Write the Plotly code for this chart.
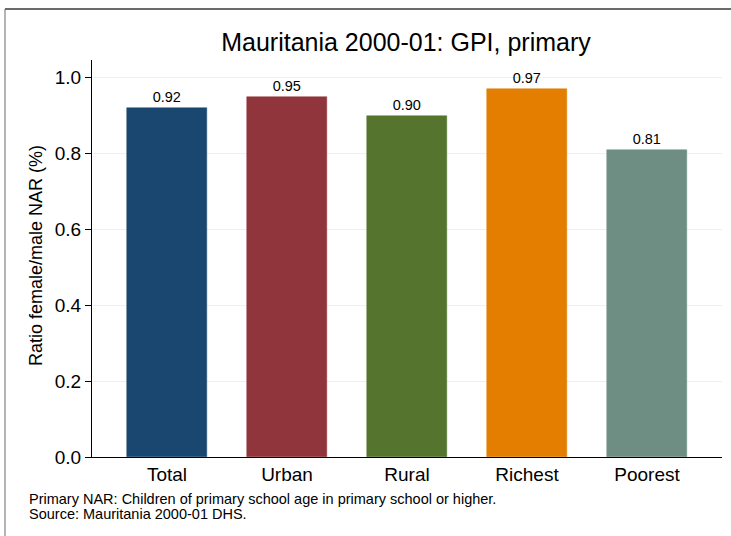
import plotly.graph_objects as go

categories = ["Total", "Urban", "Rural", "Richest", "Poorest"]
values = [0.92, 0.95, 0.90, 0.97, 0.81]
labels = ["0.92", "0.95", "0.90", "0.97", "0.81"]
colors = ["#1a476f", "#90353b", "#55752f", "#e37e00", "#6e8e84"]
y_ticks = [0.0, 0.2, 0.4, 0.6, 0.8, 1.0]
y_ticklabels = ["0.0", "0.2", "0.4", "0.6", "0.8", "1.0"]
note_lines = ["Primary NAR: Children of primary school age in primary school or higher.",
              "Source: Mauritania 2000-01 DHS."]

W, H = 731, 536
L, R, T, B = 92, 9, 60, 79
pw, ph = W - L - R, H - T - B

def px_x(x):
    return (x - L) / pw

def px_y(y):
    return (H - B - y) / ph

fig = go.Figure()
fig.add_trace(go.Bar(
    x=list(range(len(categories))), y=values,
    marker=dict(color=colors, line=dict(color=colors, width=0.5)),
    width=0.667,
    text=labels, textposition="outside",
    textfont=dict(size=14.5, color="#000000"),
    cliponaxis=False,
))

font = "Liberation Sans, Arial, sans-serif"
fig.update_layout(
    width=W, height=H,
    margin=dict(l=L, r=R, t=T, b=B),
    paper_bgcolor="white", plot_bgcolor="white",
    font=dict(family=font, color="#000000"),
    showlegend=False,
    bargap=0,
    title=dict(text="Mauritania 2000-01: GPI, primary", x=px_x(406), xanchor="center",
               xref="paper",
               y=1 - 42 / H, yanchor="middle", font=dict(size=25)),
    xaxis=dict(range=[-0.625, 4.625], tickmode="array",
               tickvals=list(range(len(categories))), ticktext=categories,
               showgrid=False, showline=True, linecolor="#000000", linewidth=1,
               ticks="", tickfont=dict(size=19), zeroline=False),
    yaxis=dict(range=[0, 1.047], tickmode="array", tickvals=y_ticks,
               ticktext=y_ticklabels, showgrid=True, gridcolor="#eaf0f3",
               gridwidth=1.2,
               showline=True, linecolor="#000000", linewidth=1,
               ticks="outside", ticklen=6, tickcolor="#000000",
               tickfont=dict(size=19), zeroline=False),
)

fig.add_annotation(text="Ratio female/male NAR (%)", textangle=-90,
                   xref="paper", yref="paper", x=px_x(36), y=px_y(256),
                   xanchor="center", yanchor="middle", showarrow=False,
                   font=dict(size=18))

for i, line in enumerate(note_lines):
    fig.add_annotation(text=line, xref="paper", yref="paper",
                       x=px_x(28), y=px_y(499 + 14.5 * i),
                       xanchor="left", yanchor="middle", align="left", showarrow=False,
                       borderpad=0,
                       font=dict(size=14.5))

# outer frame lines
fig.add_shape(type="line", xref="paper", yref="paper",
              x0=px_x(5), x1=px_x(760), y0=px_y(9), y1=px_y(9),
              line=dict(color="#6b6b6b", width=2))
fig.add_shape(type="line", xref="paper", yref="paper",
              x0=px_x(5), x1=px_x(5), y0=px_y(9), y1=px_y(540),
              line=dict(color="#6b6b6b", width=1))

fig.write_html("out.html", config={"displayModeBar": False},
               post_script="document.documentElement.style.overflow='hidden';"
                           "document.body.style.margin='0';document.body.style.overflow='hidden';")
